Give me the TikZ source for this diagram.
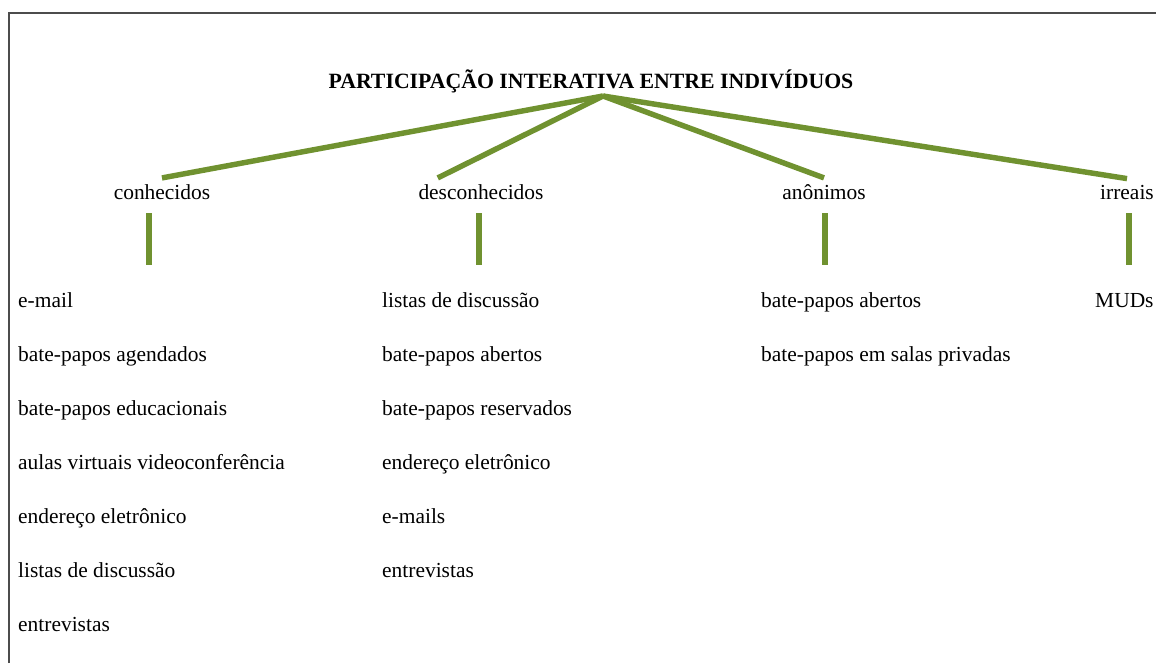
\documentclass[tikz,border=0pt]{standalone}
\usepackage{fontspec}
\setmainfont{Liberation Serif}
\usetikzlibrary{calc}
\definecolor{oliva}{RGB}{112,146,48}
\begin{document}
\begin{tikzpicture}
  [x=0.02cm,y=-0.02cm,font=\fontsize{12.2}{14}\selectfont,
   cat/.style={anchor=base},
   item/.style={anchor=base west},
   ramo/.style={draw=oliva,line width=3.1pt},
   barra/.style={draw=oliva,line width=3.4pt}]
  \useasboundingbox (0,0) rectangle (1156,663);
  \draw[gray!60!black,line width=0.8pt] (9,663) -- (9,13) -- (1156,13);
  \node (titulo)[cat,font=\fontsize{12.4}{14}\selectfont\bfseries] at (591,88) {PARTICIPAÇÃO INTERATIVA ENTRE INDIVÍDUOS};
  \coordinate (topo) at (603,96);
  \node (con)[cat] at (162,199) {conhecidos};
  \node (des)[cat] at (481,199) {desconhecidos};
  \node (ano)[cat] at (824,199) {anônimos};
  \node (irr)[cat] at (1127,199) {irreais};
  \coordinate (desx) at ($(des.north west)!.37!(des.north)$);
 \foreach \to in {con.north,desx,ano.north,irr.north}
    \draw[ramo] (topo) -- (\to);
 \foreach \x in {149,479,825,1129}
    \draw[barra] (\x,213) -- (\x,265);
 \foreach \txt [count=\i] in {e-mail,bate-papos agendados,bate-papos educacionais,aulas virtuais videoconferência,endereço eletrônico,listas de discussão,entrevistas}
    \node (con\i)[item] at (12,253+54*\i) {\txt};
 \foreach \txt [count=\i] in {listas de discussão,bate-papos abertos,bate-papos reservados,endereço eletrônico,e-mails,entrevistas}
    \node (des\i)[item] at (376,253+54*\i) {\txt};
 \foreach \txt [count=\i] in {bate-papos abertos,bate-papos em salas privadas}
    \node (ano\i)[item] at (755,253+54*\i) {\txt};
  \node (irr1)[item] at (1089,307) {MUDs};
\end{tikzpicture}
\end{document}
